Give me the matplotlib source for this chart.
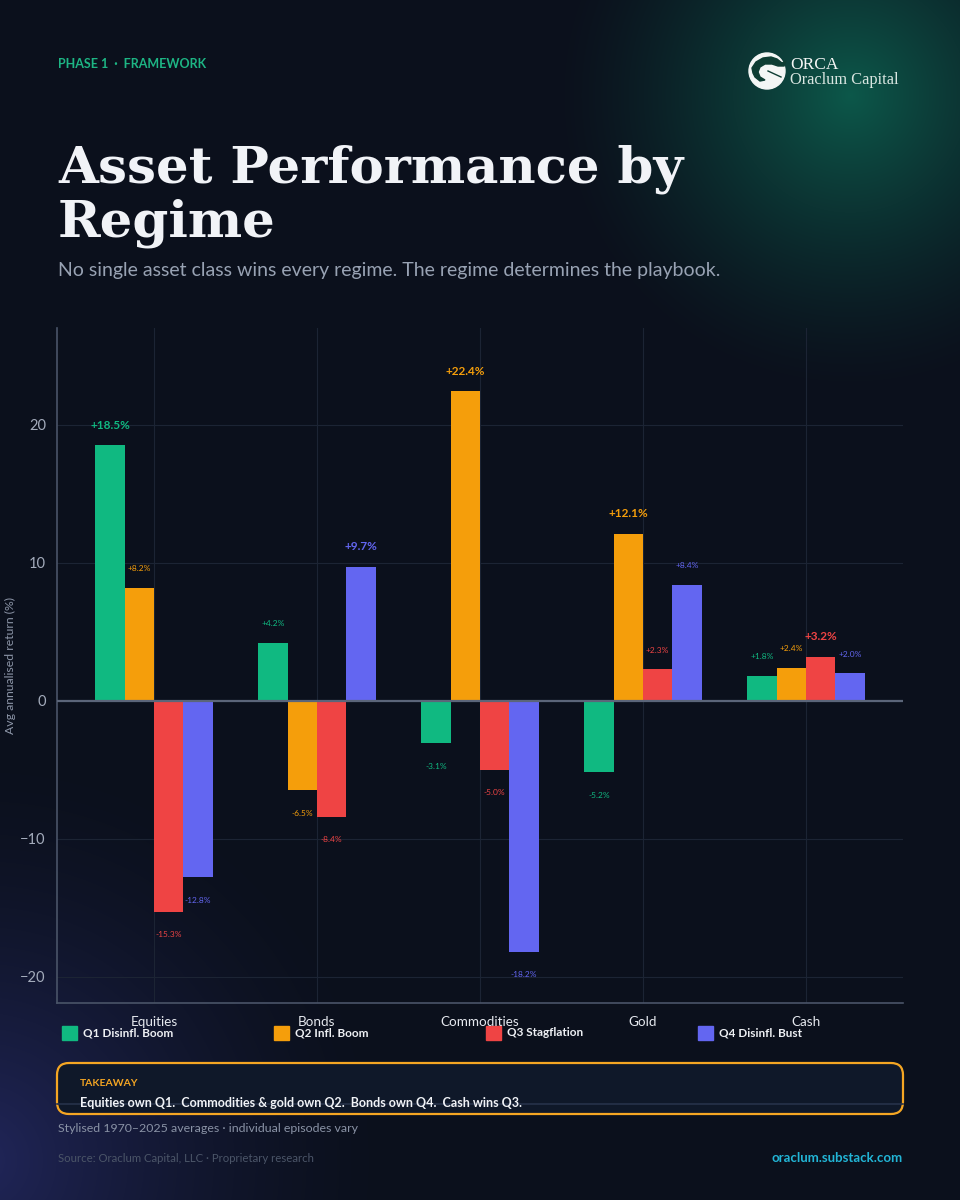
import numpy as np
import matplotlib
matplotlib.use("Agg")
import matplotlib.pyplot as plt
from matplotlib.patches import FancyBboxPatch, Circle, Polygon, Rectangle

# ---------------- data ----------------
categories = ["Equities", "Bonds", "Commodities", "Gold", "Cash"]
regimes = ["Q1 Disinfl. Boom", "Q2 Infl. Boom", "Q3 Stagflation", "Q4 Disinfl. Bust"]
q1_disinfl_boom = [18.5, 4.2, -3.1, -5.2, 1.8]
q2_infl_boom = [8.2, -6.5, 22.4, 12.1, 2.4]
q3_stagflation = [-15.3, -8.4, -5.0, 2.3, 3.2]
q4_disinfl_bust = [-12.8, 9.7, -18.2, 8.4, 2.0]
yticks = [-20, -10, 0, 10, 20]

series = [q1_disinfl_boom, q2_infl_boom, q3_stagflation, q4_disinfl_bust]
colors = ["#10b981", "#f59e0b", "#ef4444", "#6366f1"]

W, H = 960, 1200
fig = plt.figure(figsize=(W / 100, H / 100), dpi=100)

# ---------------- background ----------------
bg = fig.add_axes([0, 0, 1, 1], zorder=-10)
yy, xx = np.mgrid[0:H, 0:W]
img = np.ones((H, W, 3)) * (np.array([11, 16, 28]) / 255)
r1 = np.hypot(xx - 850, yy - 95)
w1 = np.clip(1 - r1 / 300, 0, 1) ** 1.4
img += w1[..., None] * (np.array([2, 72, 46]) / 255)
r2 = np.hypot(xx + 20, yy - 1160)
w2 = np.clip(1 - r2 / 420, 0, 1) ** 1.6
img += w2[..., None] * (np.array([22, 22, 62]) / 255)
bg.imshow(np.clip(img, 0, 1), extent=[0, W, H, 0], aspect="auto", interpolation="bilinear")
bg.set_xlim(0, W)
bg.set_ylim(H, 0)
bg.axis("off")

# header
bg.text(58, 64, "PHASE 1  ·  FRAMEWORK", family="Lato", weight="bold", size=9,
        color="#1db584", va="center", ha="left")
bg.text(58, 183, "Asset Performance by", family="DejaVu Serif", weight="bold",
        size=37, color="#f1f3f7", va="baseline", ha="left")
bg.text(58, 236, "Regime", family="DejaVu Serif", weight="bold",
        size=37, color="#f1f3f7", va="baseline", ha="left")
bg.text(58, 276, "No single asset class wins every regime. The regime determines the playbook.",
        family="Lato", size=14, color="#98a2b3", va="baseline", ha="left")

# logo
bg.add_patch(Circle((767, 71), 18, color="#f4f6f5", zorder=5))
orca = Polygon([(752, 68), (756, 62), (763, 58), (771, 57), (777, 59), (782, 63),
                (786, 61), (784, 66), (778, 66), (772, 64), (765, 64), (760, 67),
                (758, 72), (760, 77), (765, 80), (760, 81), (755, 77), (753, 73)],
               closed=True, color="#0e3d33", zorder=6)
bg.add_patch(orca)
bg.plot([768, 781], [71, 77], color="#0e3d33", lw=1.0, zorder=6)
bg.text(790, 69, "ORCA", family="Liberation Serif", size=12.5, color="#f4f6f5",
        va="baseline", ha="left")
bg.text(790, 84, "Oraclum Capital", family="Liberation Serif", size=11.8, color="#d9e6e1",
        va="baseline", ha="left")

# ---------------- main chart ----------------
ax = fig.add_axes([57 / W, 1 - 1003 / H, 846 / W, 675 / H])
ax.set_facecolor("none")
x = np.arange(len(categories))
width = 0.18
offsets = [-0.27, -0.09, 0.09, 0.27]
for vals, col, lab, off in zip(series, colors, regimes, offsets):
    ax.bar(x + off, vals, width, color=col, label=lab, zorder=3)

maxima = [max(s[i] for s in series) for i in range(len(categories))]
for vals, col, off in zip(series, colors, offsets):
    for i, v in enumerate(vals):
        bold = v == maxima[i]
        txt = f"{v:+.1f}%"
        if v >= 0:
            dy = 14.4 if bold else 13.6
        else:
            dy = -16.6
        ax.annotate(txt, (x[i] + off, v), xytext=(0, dy), textcoords="offset points",
                    ha="center", va="center", color=col, family="Lato",
                    weight="bold" if bold else "normal", size=8.5 if bold else 6, zorder=5)

ax.axhline(0, color="#5b6579", lw=1.6, zorder=4)
ax.set_xlim(-0.595, 4.595)
ax.set_ylim(-21.9, 27.0)
ax.set_yticks(yticks)
ax.set_xticks(x, categories)
ax.grid(True, color="#1c2434", lw=0.8, zorder=0)
ax.set_axisbelow(True)
for s in ["top", "right"]:
    ax.spines[s].set_visible(False)
for s in ["left", "bottom"]:
    ax.spines[s].set_color("#4a5468")
    ax.spines[s].set_linewidth(1.2)
ax.tick_params(axis="both", length=0)
ax.tick_params(axis="y", labelcolor="#a3abbb", labelsize=10.5, pad=8)
ax.tick_params(axis="x", labelcolor="#e6e9ef", labelsize=9.7, pad=9)
for t in ax.get_yticklabels() + ax.get_xticklabels():
    t.set_family("Lato")

# y-axis title, placed beside the tick labels
bg.text(10, 665, "Avg annualised return (%)", family="Lato", size=8.8, color="#8d96a8",
        rotation=90, ha="center", va="center")

# legend (equal-width columns)
for i, (lab, col) in enumerate(zip(regimes, colors)):
    x0 = 62 + i * 212
    bg.add_patch(Rectangle((x0, 1026), 15, 14, color=col, zorder=5))
    bg.text(x0 + 21, 1033, lab, family="Lato", weight="bold", size=8.5, color="#eef0f4",
            va="center", ha="left")

# takeaway box
bg.add_patch(FancyBboxPatch((57, 1063), 846, 51, boxstyle="round,pad=0,rounding_size=12",
                            fc="#0f1829", ec="#f5a623", lw=1.6, zorder=3))
bg.plot([57, 903], [1104, 1104], color="#27324a", lw=1.2, zorder=4)
bg.text(80, 1084, "TAKEAWAY", family="Lato", weight="bold", size=7.5, color="#f5a623",
        va="center", ha="left", zorder=5)
bg.text(80, 1103, "Equities own Q1.  Commodities & gold own Q2.  Bonds own Q4.  Cash wins Q3.",
        family="Lato", weight="bold", size=9, color="#f1f3f7", va="center", ha="left", zorder=5)

# footer
bg.text(58, 1128, "Stylised 1970–2025 averages · individual episodes vary", family="Lato",
        size=8.9, color="#8a93a6", va="center", ha="left")
bg.text(58, 1158, "Source: Oraclum Capital, LLC · Proprietary research", family="Lato",
        size=8.2, color="#4b5568", va="center", ha="left")
bg.text(903, 1158, "oraclum.substack.com", family="Lato", weight="bold", size=9.5,
        color="#22b5d6", va="center", ha="right")

fig.savefig("out.png", dpi=100, facecolor=fig.get_facecolor())
